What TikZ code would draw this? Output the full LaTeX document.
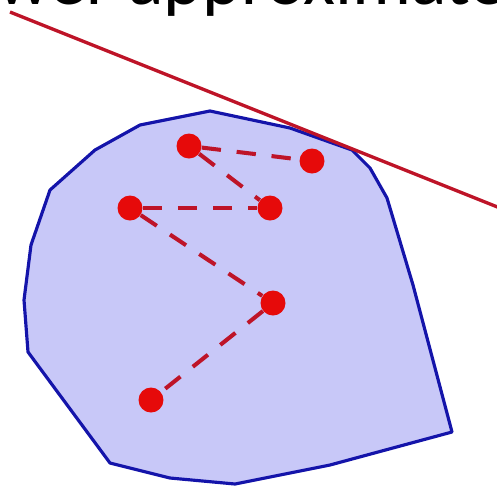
\documentclass[tikz,border=0pt]{standalone}
\usepackage{fontspec}
\setmainfont{Carlito}
\definecolor{hullblue}{RGB}{20,20,170}
\definecolor{hullfill}{RGB}{200,200,248}
\definecolor{ptred}{RGB}{230,10,10}
\definecolor{lnred}{RGB}{190,20,40}
\tikzset{
  hull/.style={fill=hullfill, draw=hullblue, line width=1.8pt, line join=round},
  pt/.style={circle, fill=ptred, inner sep=0pt, minimum size=0.5cm},
  link/.style={draw=lnred, line width=2.3pt, dash pattern=on 11pt off 9pt},
  tangent/.style={draw=lnred, line width=1.9pt},
}
\begin{document}
\begin{tikzpicture}[x=0.02cm, y=-0.02cm]
  \useasboundingbox (0,0) rectangle (497,488);
  \clip (0,0) rectangle (497,488);
  % title, cut off at the top
  \node[anchor=base east, inner sep=0pt, font=\fontsize{42}{42}\selectfont] (title) at (507,4) {lower approximate};
  % hull
  \draw[hull] (210,111) -- (290,128) -- (352,150) -- (370,168) -- (387,198) -- (413,285)
    -- (452,432) -- (330,465) -- (235,484) -- (170,478) -- (110,463)
    -- (28,352) -- (24,300) -- (31,245) -- (50,190) -- (95,150) -- (140,125) -- cycle;
  % supporting line
  \coordinate (tl) at (10,12);
  \coordinate (tr) at (500,208);
  \draw[tangent] (tl) -- (tr);
  % points
  \node[pt] (a) at (189,146) {};
  \node[pt] (b) at (312,161) {};
  \node[pt] (c) at (130,208) {};
  \node[pt] (d) at (270,208) {};
  \node[pt] (e) at (273,303) {};
  \node[pt] (f) at (151,400) {};
  % dashed links
  \draw[link] (a) -- (b);
  \draw[link] (a) -- (d);
  \draw[link] (c) -- (d);
  \draw[link] (c) -- (e);
  \draw[link] (e) -- (f);
\end{tikzpicture}
\end{document}
